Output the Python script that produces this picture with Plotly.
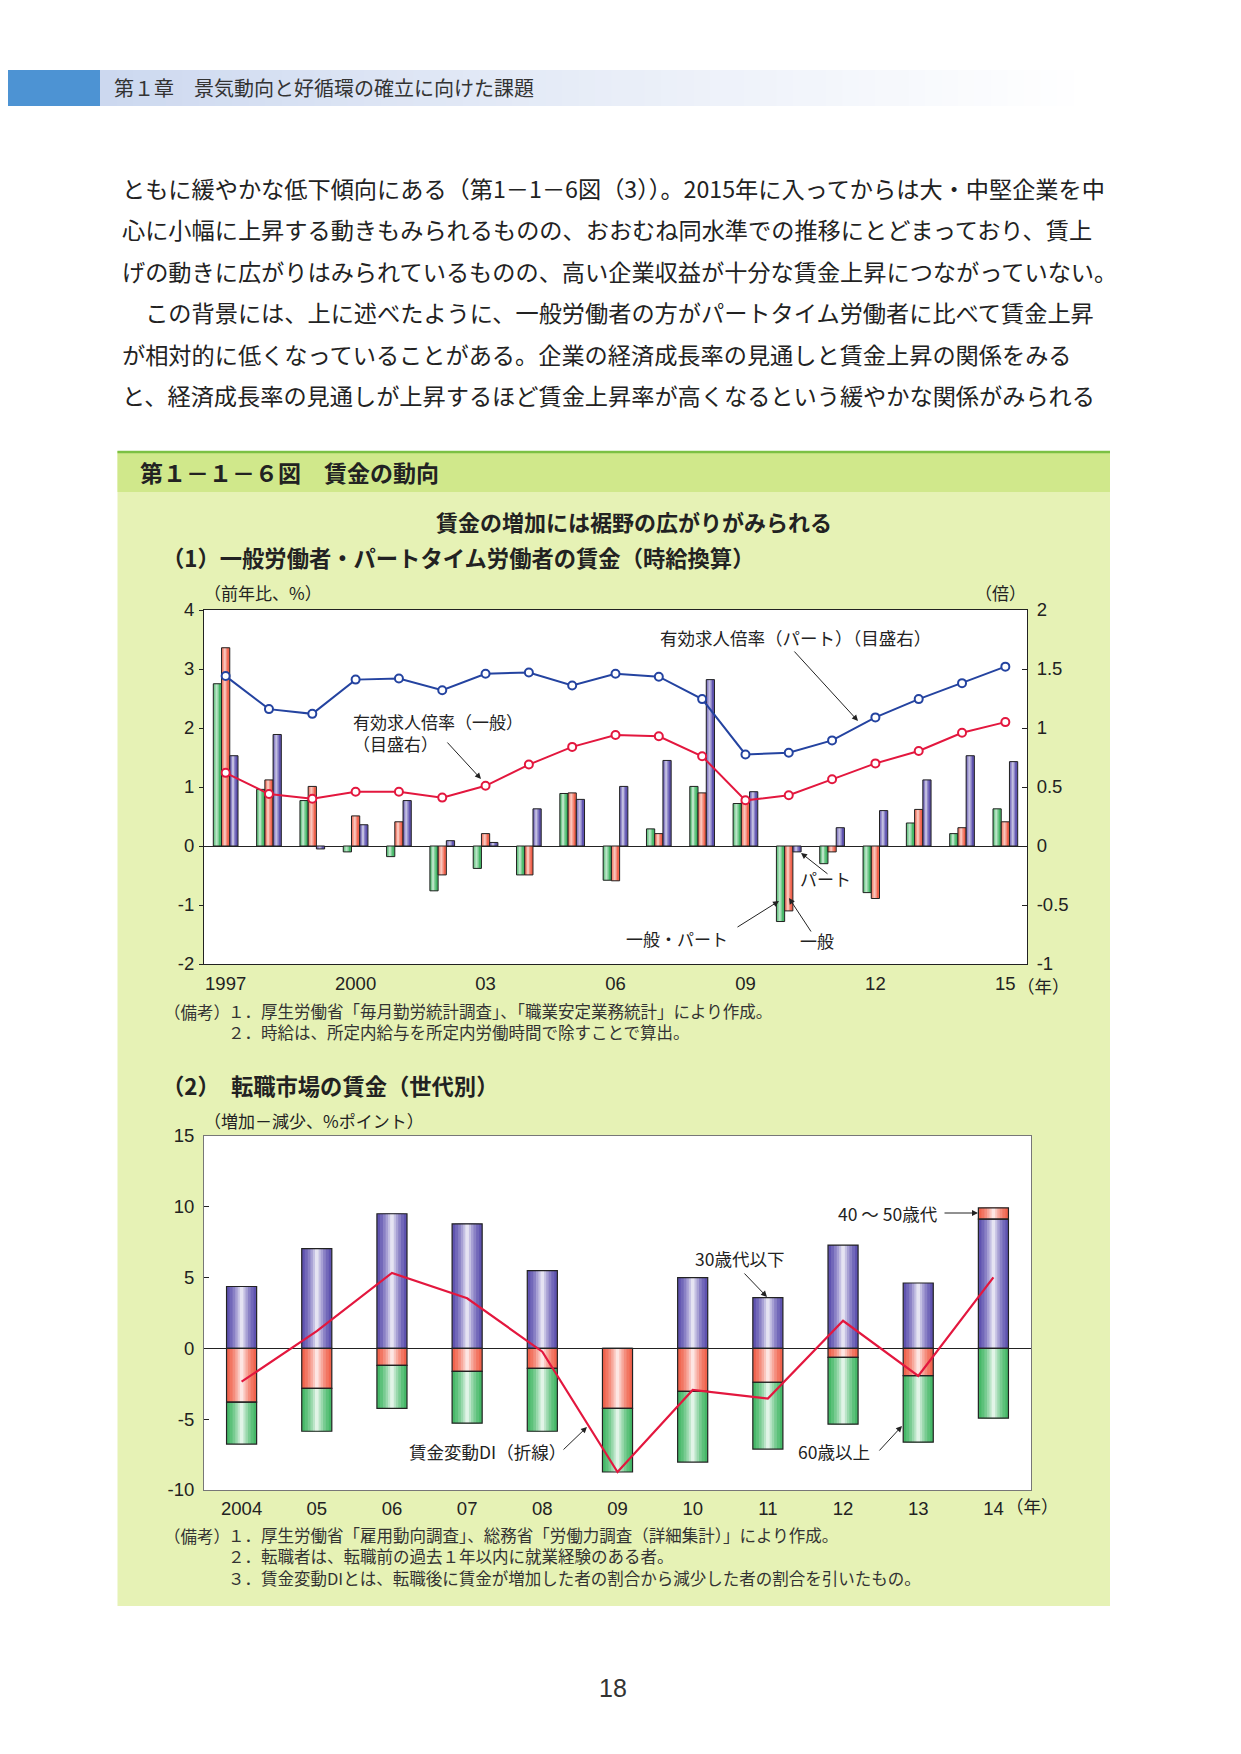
import plotly.graph_objects as go

W, H = 1241, 1754          # page size
OFF = 8                    # default body margin of the html page
WF, HF = W - OFF, H - OFF  # figure size so that the page is exactly W x H
JP = "Noto Sans CJK JP"
NUM = "Liberation Sans, Noto Sans CJK JP"

# ---------------- data: chart (1) ----------------
years1 = list(range(1997, 2016))
year_tickvals = [1997, 2000, 2003, 2006, 2009, 2012, 2015]
year_ticktext = ["1997", "2000", "03", "06", "09", "12", "15"]
# wage growth (%, y/y)
wage_all = [2.75, 0.96, 0.77, -0.10, -0.18, -0.76, -0.38, -0.49, 0.89, -0.58,
            0.29, 1.01, 0.72, -1.28, -0.30, -0.79, 0.39, 0.21, 0.63]      # 一般・パート
wage_gen = [3.36, 1.12, 1.01, 0.51, 0.41, -0.49, 0.21, -0.49, 0.90, -0.59,
            0.21, 0.90, 0.75, -1.10, -0.10, -0.89, 0.62, 0.31, 0.41]      # 一般
wage_part = [1.53, 1.89, -0.05, 0.36, 0.77, 0.09, 0.06, 0.63, 0.79, 1.01,
             1.45, 2.82, 0.92, -0.10, 0.31, 0.60, 1.12, 1.53, 1.43]       # パート
# job openings-to-applicants ratio (times, right axis)
ratio_part = [1.44, 1.16, 1.12, 1.41, 1.42, 1.32, 1.46, 1.47, 1.36, 1.46,
              1.435, 1.245, 0.776, 0.79, 0.895, 1.09, 1.245, 1.38, 1.52]
ratio_gen = [0.62, 0.44, 0.40, 0.46, 0.46, 0.41, 0.51, 0.69, 0.84, 0.94,
             0.93, 0.76, 0.387, 0.43, 0.565, 0.70, 0.805, 0.96, 1.05]
left_ticks1 = [-2, -1, 0, 1, 2, 3, 4]
left_text1 = ["-2", "-1", "0", "1", "2", "3", "4"]
right_ticks1 = [-1, -0.5, 0, 0.5, 1, 1.5, 2]
right_text1 = ["-1", "-0.5", "0", "0.5", "1", "1.5", "2"]

# ---------------- data: chart (2) ----------------
cats2 = ["2004", "05", "06", "07", "08", "09", "10", "11", "12", "13", "14"]
age_young = [4.37, 7.04, 9.51, 8.80, 5.49, 0.0, 5.00, 3.59, 7.30, 4.62, 9.13]      # 30歳代以下
age_mid = [-3.80, -2.82, -1.20, -1.62, -1.41, -4.23, -3.03, -2.39, -0.63, -1.92, 0.80]  # 40～50歳代
age_senior = [-2.96, -3.03, -3.03, -3.66, -4.44, -4.50, -5.00, -4.72, -4.72, -4.70, -4.93]  # 60歳以上
wage_di = [-2.35, 1.22, 5.33, 3.54, -0.23, -8.73, -2.93, -3.54, 1.95, -1.95, 5.02]
left_ticks2 = [-10, -5, 0, 5, 10, 15]
left_text2 = ["-10", "-5", "0", "5", "10", "15"]

# ---------------- colours ----------------
C_GREEN = "#46b868"
C_RED = "#f0634d"
C_PURPLE = "#5f53b0"
C_BLUE = "#2443a0"
C_LINE_RED = "#e3173e"
BG_GREEN = "#e6f2b5"
BAND_GREEN = "#d0e88b"


def mix(hexc, t):
    r, g, b = int(hexc[1:3], 16), int(hexc[3:5], 16), int(hexc[5:7], 16)
    r = round(r + (255 - r) * t)
    g = round(g + (255 - g) * t)
    b = round(b + (255 - b) * t)
    return f"rgb({r},{g},{b})"


def px(x):
    return (x - OFF) / WF


def py(y):
    return 1 - (y - OFF) / HF


fig = go.Figure()

# ---------- chart 1 bars (gradient layers + outline) ----------
w1 = 0.19
layers1 = [(1.0, 0.0), (0.6, 0.3), (0.25, 0.62)]
for vals, col, k in [(wage_all, C_GREEN, -1), (wage_gen, C_RED, 0), (wage_part, C_PURPLE, 1)]:
    for frac, t in layers1:
        wl = w1 * frac
        fig.add_trace(go.Bar(x=years1, y=vals, xaxis="x", yaxis="y",
                             width=wl, offset=k * w1 - wl / 2 - 0.02 * (frac < 1),
                             marker=dict(color=mix(col, t), line=dict(width=0)),
                             showlegend=False, hoverinfo="skip"))
    fig.add_trace(go.Bar(x=years1, y=vals, xaxis="x", yaxis="y",
                         width=w1, offset=k * w1 - w1 / 2,
                         marker=dict(color="rgba(0,0,0,0)", line=dict(width=1, color="#222")),
                         showlegend=False))

for vals, col in [(ratio_part, C_BLUE), (ratio_gen, C_LINE_RED)]:
    fig.add_trace(go.Scatter(x=years1, y=vals, xaxis="x", yaxis="y2",
                             mode="lines+markers",
                             line=dict(color=col, width=2),
                             marker=dict(symbol="circle", size=8, color="white",
                                         line=dict(color=col, width=2)),
                             showlegend=False))

# ---------- chart 2 stacked bars ----------
w2 = 0.4
base_young = [0.0 for _ in age_young]
base_mid = [yv if m > 0 else 0.0 for yv, m in zip(age_young, age_mid)]
base_senior = [m if m < 0 else 0.0 for m in age_mid]
layers2 = [(1.0, 0.0), (0.8, 0.12), (0.6, 0.27), (0.42, 0.45), (0.26, 0.64), (0.12, 0.84)]
stack = [(age_young, base_young, C_PURPLE), (age_mid, base_mid, C_RED),
         (age_senior, base_senior, C_GREEN)]
for vals, base, col in stack:
    for frac, t in layers2:
        wl = w2 * frac
        fig.add_trace(go.Bar(x=cats2, y=vals, base=base, xaxis="x3", yaxis="y3",
                             width=wl, offset=-wl / 2,
                             marker=dict(color=mix(col, t), line=dict(width=0)),
                             showlegend=False, hoverinfo="skip"))
for vals, base, col in stack:
    fig.add_trace(go.Bar(x=cats2, y=vals, base=base, xaxis="x3", yaxis="y3",
                         width=w2, offset=-w2 / 2,
                         marker=dict(color="rgba(0,0,0,0)", line=dict(width=1.2, color="#222")),
                         showlegend=False))

fig.add_trace(go.Scatter(x=cats2, y=wage_di, xaxis="x3", yaxis="y3", mode="lines",
                         line=dict(color=C_LINE_RED, width=2.2), showlegend=False))

# ---------- shapes: page decoration ----------
shapes = []
shapes.append(dict(type="rect", xref="paper", yref="paper", x0=px(0), x1=px(100),
                   y0=py(106), y1=py(70), fillcolor="#4d93d3", line=dict(width=0), layer="below"))
n = 60
x_start, x_end = 100, 1090
for i in range(n):
    xa = x_start + (x_end - x_start) * i / n
    xb = x_start + (x_end - x_start) * (i + 1) / n + 0.5
    t = i / (n - 1)
    shapes.append(dict(type="rect", xref="paper", yref="paper", x0=px(xa), x1=px(xb),
                       y0=py(106), y1=py(70), fillcolor=mix("#ccd8ef", t ** 0.9),
                       line=dict(width=0), layer="below"))
shapes.append(dict(type="rect", xref="paper", yref="paper", x0=px(117.5), x1=px(1110),
                   y0=py(1606), y1=py(451), fillcolor=BG_GREEN, line=dict(width=0), layer="below"))
shapes.append(dict(type="rect", xref="paper", yref="paper", x0=px(117.5), x1=px(1110),
                   y0=py(492), y1=py(451), fillcolor=BAND_GREEN, line=dict(width=0), layer="below"))
shapes.append(dict(type="line", xref="paper", yref="paper", x0=px(117.5), x1=px(1110),
                   y0=py(452), y1=py(452), line=dict(color="#7bc043", width=2.5), layer="below"))
shapes.append(dict(type="rect", xref="paper", yref="paper", x0=px(204), x1=px(1027),
                   y0=py(964), y1=py(610), fillcolor="white", line=dict(width=0), layer="below"))
shapes.append(dict(type="rect", xref="paper", yref="paper", x0=px(204), x1=px(1031),
                   y0=py(1490), y1=py(1136), fillcolor="white", line=dict(width=0), layer="below"))

# ---------- annotations ----------
ann = []


def txt(x, y, s, size, color="#222", family=JP, anchor="left", yanchor="middle"):
    ann.append(dict(x=px(x), y=py(y), xref="paper", yref="paper", text=s, showarrow=False,
                    xanchor=anchor, yanchor=yanchor, align="left",
                    font=dict(size=size, color=color, family=family)))


def arrow(tx, ty, hx, hy):
    ann.append(dict(x=px(hx), y=py(hy), xref="paper", yref="paper", text="",
                    showarrow=True, ax=tx - hx, ay=ty - hy, axref="pixel", ayref="pixel",
                    arrowhead=2, arrowsize=1.2, arrowwidth=1, arrowcolor="#222",
                    standoff=0, startstandoff=0))


txt(112, 88, "第１章　景気動向と好循環の確立に向けた課題", 20, color="#333")

body = [
    "ともに緩やかな低下傾向にある（第1－1－6図（3））。2015年に入ってからは大・中堅企業を中",
    "心に小幅に上昇する動きもみられるものの、おおむね同水準での推移にとどまっており、賃上",
    "げの動きに広がりはみられているものの、高い企業収益が十分な賃金上昇につながっていない。",
    "　この背景には、上に述べたように、一般労働者の方がパートタイム労働者に比べて賃金上昇",
    "が相対的に低くなっていることがある。企業の経済成長率の見通しと賃金上昇の関係をみる",
    "と、経済成長率の見通しが上昇するほど賃金上昇率が高くなるという緩やかな関係がみられる",
]
body_y = [188, 229, 271, 312, 354, 395]
for s, yy in zip(body, body_y):
    txt(120, yy, s, 23.2, color="#222")

txt(138, 472, "<b>第１－１－６図　賃金の動向</b>", 23, color="#222")
txt(634, 521, "<b>賃金の増加には裾野の広がりがみられる</b>", 22, color="#222", anchor="center")
txt(160, 557, "<b>（1）一般労働者・パートタイム労働者の賃金（時給換算）</b>", 22.3, color="#222")
txt(160, 1085, "<b>（2）　転職市場の賃金（世代別）</b>", 22.3, color="#222")

txt(202, 593, "（前年比、%）", 17, color="#222")
txt(1028, 593, "（倍）", 17, color="#222", anchor="right")
txt(1015, 985, "（年）", 17.5, color="#222")

txt(351, 732, "有効求人倍率（一般）<br>（目盛右）", 17)
arrow(446, 741, 481, 779)
txt(658, 637, "有効求人倍率（パート）（目盛右）", 17.5)
arrow(793, 650, 858, 721)
txt(798, 878, "パート", 17)
arrow(829, 875, 801, 853)
txt(624, 938, "一般・パート", 17)
arrow(736, 928, 779, 901)
txt(798, 940, "一般", 17)
arrow(812, 933, 789, 898)

notes1 = ["１．厚生労働省「毎月勤労統計調査」、「職業安定業務統計」により作成。",
          "２．時給は、所定内給与を所定内労働時間で除すことで算出。"]
txt(162, 1012, "（備考）", 16.5, color="#333")
txt(226, 996.5, "<br>".join(notes1), 16.5, color="#333", yanchor="top")

txt(202, 1120, "（増加－減少、%ポイント）", 17, color="#222")
txt(1004, 1505, "（年）", 17.5, color="#222")

txt(940, 1213, "40 ～ 50歳代", 17.5, anchor="right")
arrow(943, 1213, 978, 1213)
txt(693, 1258, "30歳代以下", 17.5)
arrow(743, 1272, 767, 1297)
txt(796, 1451, "60歳以上", 17.5)
arrow(878, 1452, 902, 1426)
txt(407, 1451, "賃金変動DI（折線）", 17.5)
arrow(562, 1451, 587, 1427)

notes2 = ["１．厚生労働省「雇用動向調査」、総務省「労働力調査（詳細集計）」により作成。",
          "２．転職者は、転職前の過去１年以内に就業経験のある者。",
          "３．賃金変動DIとは、転職後に賃金が増加した者の割合から減少した者の割合を引いたもの。"]
txt(162, 1536, "（備考）", 16.5, color="#333")
txt(226, 1520.5, "<br>".join(notes2), 16.5, color="#333", yanchor="top")

txt(613, 1688, "18", 25, color="#333", family=NUM, anchor="center")

# ---------- layout ----------
tickfont = dict(family=NUM, size=18.5, color="#222")
y1dom = [py(964), py(610)]
y2dom = [py(1490), py(1136)]
x1dom = [px(204), px(1027)]
x2dom = [px(204), px(1031)]
zero_pos2 = y2dom[0] + (0 - (-10)) / 25 * (y2dom[1] - y2dom[0])

fig.update_layout(
    width=WF, height=HF, margin=dict(l=0, r=0, t=0, b=0, autoexpand=False),
    paper_bgcolor="white", plot_bgcolor="white",
    barmode="overlay", showlegend=False,
    shapes=shapes, annotations=ann,
    xaxis=dict(domain=x1dom, anchor="y", range=[1996.5, 2015.5], automargin=False,
               tickmode="array", tickvals=year_tickvals, ticktext=year_ticktext,
               ticks="", showline=True, mirror=True, linecolor="#222", linewidth=1,
               showgrid=False, zeroline=False, tickfont=tickfont, ticklabelstandoff=3),
    yaxis=dict(domain=y1dom, anchor="x", range=[-2, 4], automargin=False,
               tickmode="array", tickvals=left_ticks1, ticktext=left_text1,
               ticks="outside", ticklen=4, tickcolor="#222",
               showline=True, mirror=True, linecolor="#222", linewidth=1,
               showgrid=False, zeroline=True, zerolinecolor="#222", zerolinewidth=1,
               tickfont=tickfont, ticklabelstandoff=1),
    yaxis2=dict(overlaying="y", side="right", anchor="x", range=[-1, 2], automargin=False,
                tickmode="array", tickvals=right_ticks1, ticktext=right_text1,
                ticks="inside", ticklen=5, tickcolor="#222",
                showline=True, linecolor="#222", linewidth=1,
                showgrid=False, zeroline=False, tickfont=tickfont, ticklabelstandoff=5),
    xaxis3=dict(domain=x2dom, anchor="y3", type="category", range=[-0.5, 10.5], automargin=False,
                ticks="", showline=True, mirror=True, linecolor="#777", linewidth=1,
                showgrid=False, zeroline=False, tickfont=tickfont, ticklabelstandoff=2),
    yaxis3=dict(domain=y2dom, anchor="x3", range=[-10, 15], automargin=False,
                tickmode="array", tickvals=left_ticks2, ticktext=left_text2,
                ticks="inside", ticklen=5, tickcolor="#222",
                showline=True, mirror=True, linecolor="#777", linewidth=1,
                showgrid=False, zeroline=True, zerolinecolor="#222", zerolinewidth=1,
                tickfont=tickfont, ticklabelstandoff=5),
    xaxis4=dict(domain=x2dom, anchor="free", position=zero_pos2, overlaying="x3",
                side="top", type="linear", range=[-0.5, 10.5], automargin=False,
                tickmode="array", tickvals=[i + 0.5 for i in range(len(cats2) - 1)],
                ticks="outside", ticklen=6, tickcolor="#222", showticklabels=False,
                showline=False, showgrid=False, zeroline=False),
)

fig.write_html("out.html")
